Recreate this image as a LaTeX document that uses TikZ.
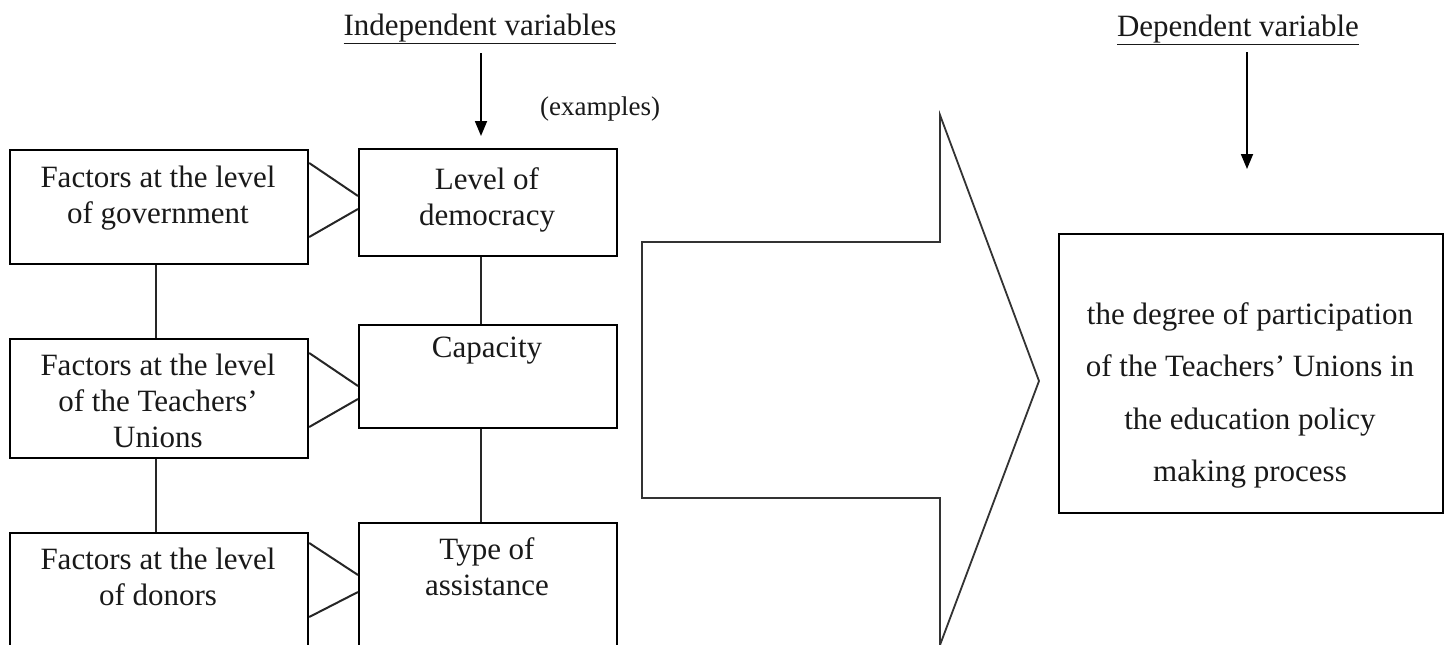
\documentclass[tikz,border=0pt]{standalone}
\usepackage{fontspec}
\setmainfont{Liberation Serif}
\usetikzlibrary{arrows.meta}
\begin{document}
\begin{tikzpicture}[x=1pt,y=-1pt,
  box/.style={draw, line width=2.2pt, inner sep=0pt, anchor=north west},
  txt/.style={inner sep=0pt, anchor=north, align=center, text=black!90, font=\fontsize{31}{36}\selectfont},
  bigtxt/.style={inner sep=0pt, anchor=north, align=center, text=black!90, font=\fontsize{31}{52.5}\selectfont},
  head/.style={inner sep=0pt, anchor=base, text=black!90, font=\fontsize{31}{36}\selectfont},
  link/.style={line width=2pt, draw=black!85},
  arr/.style={line width=1.8pt, -{Triangle[length=15pt,width=12pt]}}
]
\useasboundingbox (0,0) rectangle (1448,645);
\clip (0,0) rectangle (1448,645);

% titles
\node[head] (iv) at (480,35) {\underline{Independent variables}};
\node[head] (dv) at (1238,36) {\underline{Dependent variable}};
\node[inner sep=0pt, anchor=base, text=black!90, font=\fontsize{27}{30}\selectfont] (ex) at (600,115) {(examples)};

\coordinate (ivs) at (481,53);
\coordinate (ive) at (481,136);
\coordinate (dvs) at (1247,52);
\coordinate (dve) at (1247,169);
\draw[arr] (ivs) -- (ive);
\draw[arr] (dvs) -- (dve);

% left column boxes
\node[box, minimum width=298pt, minimum height=114pt] (A) at (9,149) {};
\node[box, minimum width=298pt, minimum height=119pt] (B) at (9,338) {};
\node[box, minimum width=298pt, minimum height=140pt] (C) at (9,532) {};

% right column boxes
\node[box, minimum width=258pt, minimum height=107pt] (D) at (358,148) {};
\node[box, minimum width=258pt, minimum height=103pt] (E) at (358,324) {};
\node[box, minimum width=258pt, minimum height=140pt] (F) at (358,522) {};

% result box
\node[box, minimum width=384pt, minimum height=279pt] (R) at (1058,233) {};

% texts
\node[txt] (tA) at (158,166) {Factors at the level\\of government};
\node[txt] (tB) at (158,354) {Factors at the level\\of the Teachers’\\Unions};
\node[txt] (tC) at (158,548) {Factors at the level\\of donors};
\node[txt] (tD) at (487,167) {Level of\\democracy};
\node[txt] (tE) at (487,337) {Capacity};
\node[txt] (tF) at (487,537) {Type of\\assistance};
\node[bigtxt] (tR) at (1250,302) {the degree of participation\\of the Teachers’ Unions in\\the education policy\\making process};

% vertical links
\coordinate (lc) at (156,0);
\coordinate (rc) at (481,0);
\draw[link] (A.south -| lc) -- (B.north -| lc);
\draw[link] (B.south -| lc) -- (C.north -| lc);
\draw[link] (D.south -| rc) -- (E.north -| rc);
\draw[link] (E.south -| rc) -- (F.north -| rc);

% diagonal links
\draw[link] ([yshift=-14pt]A.north east) -- ([yshift=-48pt]D.north west);
\draw[link] ([yshift=-88pt]A.north east) -- ([yshift=-61pt]D.north west);
\draw[link] ([yshift=-15pt]B.north east) -- ([yshift=-62pt]E.north west);
\draw[link] ([yshift=-89pt]B.north east) -- ([yshift=-75pt]E.north west);
\draw[link] ([yshift=-11pt]C.north east) -- ([yshift=-53pt]F.north west);
\draw[link] ([yshift=-85pt]C.north east) -- ([yshift=-70pt]F.north west);

% big arrow
\draw[line width=1.8pt, draw=black!80, line join=miter]
  (642,242) -- (940,242) -- (940,115) -- (1039,381) -- (940,645) -- (940,498) -- (642,498) -- cycle;
\end{tikzpicture}
\end{document}
